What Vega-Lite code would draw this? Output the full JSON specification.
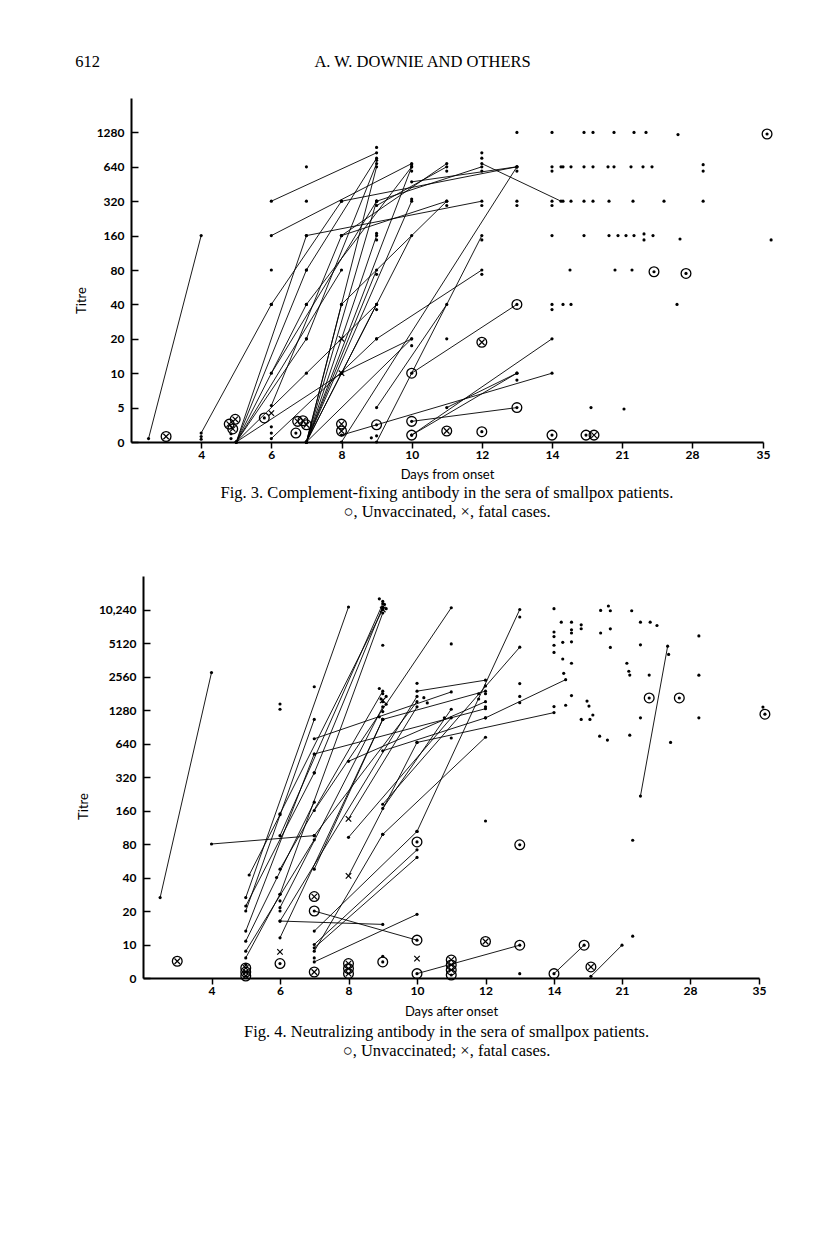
{
"$schema": "https://vega.github.io/schema/vega-lite/v6.json",
"background": "white",
"padding": {"left": 75, "top": 53, "right": 10, "bottom": 10},
"config": {"view": {"stroke": null}, "font": "Lato"},
"title": {"text": "612\u00a0\u00a0\u00a0\u00a0\u00a0\u00a0\u00a0\u00a0\u00a0\u00a0\u00a0\u00a0\u00a0\u00a0\u00a0\u00a0\u00a0\u00a0\u00a0\u00a0\u00a0\u00a0\u00a0\u00a0\u00a0\u00a0\u00a0\u00a0\u00a0\u00a0\u00a0\u00a0\u00a0\u00a0\u00a0\u00a0\u00a0\u00a0\u00a0\u00a0\u00a0\u00a0\u00a0\u00a0\u00a0\u00a0\u00a0\u00a0\u00a0\u00a0\u00a0\u00a0A. W. DOWNIE AND OTHERS", "anchor": "start", "font": "Liberation Serif", "fontSize": 16.5, "fontWeight": "normal", "color": "black", "offset": 28},
"spacing": 55,
"datasets": {
"cf": [
{"d":2.5,"t":0.5,"k":"dot","g":"a1"},{"d":4,"t":160,"k":"dot","g":"a1"},
{"d":4,"t":1.3,"k":"dot","g":"a2"},{"d":6,"t":40,"k":"dot","g":"a2"},
{"d":6,"t":320,"k":"dot","g":"a3"},{"d":9,"t":900,"k":"dot","g":"a3"},
{"d":6,"t":160,"k":"dot","g":"a4"},{"d":10,"t":700,"k":"dot","g":"a4"},
{"d":7,"t":160,"k":"dot","g":"a5"},{"d":12,"t":320,"k":"dot","g":"a5"},
{"d":6,"t":40,"k":"dot","g":"a6"},{"d":8,"t":320,"k":"dot","g":"a6"},
{"d":6,"t":10,"k":"dot","g":"a7"},{"d":9,"t":320,"k":"dot","g":"a7"},
{"d":6,"t":5.3,"k":"dot","g":"a8"},{"d":8,"t":160,"k":"dot","g":"a8"},
{"d":5,"t":0,"k":"dot","g":"a9"},{"d":7,"t":160,"k":"dot","g":"a9"},
{"d":5,"t":0,"k":"dot","g":"a10"},{"d":7,"t":80,"k":"dot","g":"a10"},
{"d":5,"t":0,"k":"dot","g":"a11"},{"d":7,"t":40,"k":"dot","g":"a11"},
{"d":5,"t":0,"k":"dot","g":"a12"},{"d":8,"t":80,"k":"dot","g":"a12"},
{"d":5,"t":0,"k":"dot","g":"a13"},{"d":9,"t":40,"k":"dot","g":"a13"},
{"d":5,"t":0,"k":"dot","g":"a14"},{"d":8,"t":10,"k":"dot","g":"a14"},
{"d":5,"t":0,"k":"dot","g":"a15"},{"d":7,"t":20,"k":"dot","g":"a15"},
{"d":7,"t":0,"k":"dot","g":"a16"},{"d":9,"t":640,"k":"dot","g":"a16"},
{"d":7,"t":0,"k":"dot","g":"a17"},{"d":10,"t":640,"k":"dot","g":"a17"},
{"d":7,"t":0,"k":"dot","g":"a18"},{"d":9,"t":320,"k":"dot","g":"a18"},
{"d":7,"t":0,"k":"dot","g":"a19"},{"d":10,"t":320,"k":"dot","g":"a19"},
{"d":7,"t":0,"k":"dot","g":"a20"},{"d":9,"t":160,"k":"dot","g":"a20"},
{"d":7,"t":0,"k":"dot","g":"a21"},{"d":9,"t":80,"k":"dot","g":"a21"},
{"d":7,"t":0,"k":"dot","g":"a22"},{"d":10,"t":20,"k":"dot","g":"a22"},
{"d":7,"t":0,"k":"dot","g":"a23"},{"d":9,"t":40,"k":"dot","g":"a23"},
{"d":7,"t":0,"k":"dot","g":"a24"},{"d":8,"t":40,"k":"dot","g":"a24"},
{"d":7,"t":0,"k":"dot","g":"a25"},{"d":10,"t":160,"k":"dot","g":"a25"},
{"d":7,"t":20,"k":"dot","g":"a26"},{"d":9,"t":700,"k":"dot","g":"a26"},
{"d":7,"t":40,"k":"dot","g":"a27"},{"d":10,"t":640,"k":"dot","g":"a27"},
{"d":7,"t":80,"k":"dot","g":"a28"},{"d":9,"t":800,"k":"dot","g":"a28"},
{"d":8,"t":320,"k":"dot","g":"a29"},{"d":13,"t":640,"k":"dot","g":"a29"},
{"d":9,"t":320,"k":"dot","g":"a30"},{"d":12,"t":640,"k":"dot","g":"a30"},
{"d":8,"t":160,"k":"dot","g":"a31"},{"d":11,"t":320,"k":"dot","g":"a31"},
{"d":8,"t":0,"k":"dot","g":"a32"},{"d":13,"t":640,"k":"dot","g":"a32"},
{"d":9,"t":0,"k":"dot","g":"a33"},{"d":12,"t":160,"k":"dot","g":"a33"},
{"d":8,"t":40,"k":"dot","g":"a34"},{"d":11,"t":320,"k":"dot","g":"a34"},
{"d":9,"t":20,"k":"dot","g":"a35"},{"d":12,"t":80,"k":"dot","g":"a35"},
{"d":9,"t":5,"k":"dot","g":"a36"},{"d":11,"t":40,"k":"dot","g":"a36"},
{"d":10,"t":10,"k":"circ","g":"a37"},{"d":13,"t":40,"k":"circ","g":"a37"},
{"d":10,"t":1,"k":"circ","g":"a38"},{"d":13,"t":10,"k":"dot","g":"a38"},
{"d":10,"t":1,"k":"dot","g":"a39"},{"d":14,"t":20,"k":"dot","g":"a39"},
{"d":11,"t":5,"k":"dot","g":"a40"},{"d":13,"t":10,"k":"dot","g":"a40"},
{"d":10,"t":3,"k":"circ","g":"a41"},{"d":13,"t":5,"k":"circ","g":"a41"},
{"d":8,"t":1,"k":"dot","g":"a42"},{"d":14,"t":10,"k":"dot","g":"a42"},
{"d":12,"t":700,"k":"dot","g":"a43"},{"d":14.9,"t":320,"k":"dot","g":"a43"},
{"d":10,"t":500,"k":"dot","g":"a44"},{"d":13,"t":640,"k":"dot","g":"a44"},
{"d":8,"t":10,"k":"dot","g":"a45"},{"d":10,"t":20,"k":"dot","g":"a45"},
{"d":6,"t":0.5,"k":"dot","g":"a46"},{"d":9,"t":20,"k":"dot","g":"a46"},
{"d":9,"t":300,"k":"dot","g":"a47"},{"d":11,"t":640,"k":"dot","g":"a47"},
{"d":8,"t":160,"k":"dot","g":"a48"},{"d":11,"t":700,"k":"dot","g":"a48"},
{"d":3,"t":0.8,"k":"circx"},
{"d":4,"t":0.4,"k":"dot"},{"d":4,"t":0.8,"k":"dot"},
{"d":4.8,"t":2.6,"k":"circx"},{"d":4.97,"t":3.3,"k":"circx"},{"d":4.9,"t":1.9,"k":"circx"},
{"d":4.85,"t":1.2,"k":"dot"},{"d":4.85,"t":0.5,"k":"dot"},
{"d":6,"t":80,"k":"dot"},{"d":5.8,"t":3.5,"k":"circ"},{"d":6,"t":4.2,"k":"x"},
{"d":6,"t":2.2,"k":"dot"},{"d":6,"t":1.3,"k":"dot"},
{"d":6.75,"t":3,"k":"circx"},{"d":6.9,"t":3.1,"k":"circx"},{"d":7,"t":2.5,"k":"circx"},
{"d":6.7,"t":1.3,"k":"circ"},
{"d":7,"t":640,"k":"dot"},{"d":7,"t":320,"k":"dot"},{"d":7,"t":10,"k":"dot"},
{"d":8,"t":2.6,"k":"circx"},{"d":8,"t":1.6,"k":"circx"},
{"d":8,"t":20,"k":"x"},{"d":8,"t":10,"k":"x"},
{"d":9,"t":2.5,"k":"circ"},{"d":8.85,"t":0.6,"k":"dot"},{"d":9,"t":0.9,"k":"dot"},
{"d":9,"t":170,"k":"dot"},{"d":9,"t":150,"k":"dot"},{"d":9,"t":75,"k":"dot"},{"d":9,"t":37,"k":"dot"},
{"d":9,"t":1000,"k":"dot"},{"d":9,"t":760,"k":"dot"},
{"d":10,"t":18,"k":"dot"},{"d":10,"t":680,"k":"dot"},{"d":10,"t":600,"k":"dot"},{"d":10,"t":340,"k":"dot"},
{"d":11,"t":1.6,"k":"circx"},{"d":11,"t":600,"k":"dot"},{"d":11,"t":300,"k":"dot"},{"d":11,"t":20,"k":"dot"},
{"d":12,"t":19,"k":"circx"},{"d":12,"t":1.5,"k":"circ"},
{"d":12,"t":900,"k":"dot"},{"d":12,"t":800,"k":"dot"},{"d":12,"t":600,"k":"dot"},{"d":12,"t":300,"k":"dot"},{"d":12,"t":150,"k":"dot"},{"d":12,"t":75,"k":"dot"},
{"d":13,"t":1280,"k":"dot"},{"d":13,"t":600,"k":"dot"},{"d":13,"t":320,"k":"dot"},{"d":13,"t":300,"k":"dot"},{"d":13,"t":9,"k":"dot"},
{"d":14,"t":1280,"k":"dot"},{"d":14,"t":640,"k":"dot"},{"d":14,"t":600,"k":"dot"},{"d":14,"t":320,"k":"dot"},{"d":14,"t":300,"k":"dot"},{"d":14,"t":160,"k":"dot"},{"d":14,"t":40,"k":"dot"},{"d":14,"t":37,"k":"dot"},
{"d":14,"t":1,"k":"circ"},
{"d":14.9,"t":640,"k":"dot"},{"d":15.1,"t":640,"k":"dot"},{"d":15.9,"t":640,"k":"dot"},{"d":17.2,"t":640,"k":"dot"},{"d":18.1,"t":640,"k":"dot"},{"d":19.6,"t":640,"k":"dot"},{"d":20.2,"t":640,"k":"dot"},{"d":21.9,"t":640,"k":"dot"},{"d":23.1,"t":640,"k":"dot"},{"d":24,"t":640,"k":"dot"},{"d":29.1,"t":680,"k":"dot"},{"d":29.1,"t":600,"k":"dot"},
{"d":17.2,"t":1280,"k":"dot"},{"d":18.1,"t":1280,"k":"dot"},{"d":20.2,"t":1280,"k":"dot"},{"d":22.2,"t":1280,"k":"dot"},{"d":23.4,"t":1280,"k":"dot"},{"d":26.6,"t":1240,"k":"dot"},{"d":35.4,"t":1250,"k":"circ"},
{"d":15.1,"t":320,"k":"dot"},{"d":15.9,"t":320,"k":"dot"},{"d":17.2,"t":320,"k":"dot"},{"d":18.1,"t":320,"k":"dot"},{"d":19.7,"t":320,"k":"dot"},{"d":22.1,"t":320,"k":"dot"},{"d":25.2,"t":320,"k":"dot"},{"d":29.1,"t":320,"k":"dot"},
{"d":17.2,"t":160,"k":"dot"},{"d":19.7,"t":160,"k":"dot"},{"d":20.6,"t":160,"k":"dot"},{"d":21.4,"t":160,"k":"dot"},{"d":22.2,"t":160,"k":"dot"},{"d":23.2,"t":168,"k":"dot"},{"d":23.2,"t":150,"k":"dot"},{"d":24.1,"t":160,"k":"dot"},{"d":26.8,"t":152,"k":"dot"},{"d":35.8,"t":150,"k":"dot"},
{"d":15.8,"t":80,"k":"dot"},{"d":20.3,"t":80,"k":"dot"},{"d":22,"t":80,"k":"dot"},{"d":24.2,"t":78,"k":"circ"},{"d":27.4,"t":76,"k":"circ"},
{"d":15.1,"t":40,"k":"dot"},{"d":15.9,"t":40,"k":"dot"},{"d":26.5,"t":40,"k":"dot"},
{"d":17.9,"t":5,"k":"dot"},{"d":21.2,"t":4.8,"k":"dot"},
{"d":17.4,"t":1,"k":"circ"},{"d":18.2,"t":1,"k":"circx"}
],
"nt": [
{"d":2.5,"t":28,"k":"dot","g":"b1"},{"d":4,"t":2860,"k":"dot","g":"b1"},
{"d":4,"t":80,"k":"dot","g":"b2"},{"d":7,"t":100,"k":"dot","g":"b2"},
{"d":5,"t":28,"k":"dot","g":"b3"},{"d":8,"t":11000,"k":"dot","g":"b3"},
{"d":5,"t":20,"k":"dot","g":"b4"},{"d":7,"t":1100,"k":"dot","g":"b4"},
{"d":5,"t":14,"k":"dot","g":"b5"},{"d":7,"t":540,"k":"dot","g":"b5"},
{"d":5,"t":11,"k":"dot","g":"b6"},{"d":7,"t":200,"k":"dot","g":"b6"},
{"d":5,"t":8,"k":"dot","g":"b7"},{"d":7,"t":90,"k":"dot","g":"b7"},
{"d":5,"t":6,"k":"dot","g":"b8"},{"d":6,"t":30,"k":"dot","g":"b8"},
{"d":5,"t":23,"k":"dot","g":"b9"},{"d":7,"t":360,"k":"dot","g":"b9"},
{"d":5.1,"t":43,"k":"dot","g":"b10"},{"d":6,"t":150,"k":"dot","g":"b10"},
{"d":6,"t":152,"k":"dot","g":"b11"},{"d":9,"t":10240,"k":"dot","g":"b11"},
{"d":6,"t":100,"k":"dot","g":"b12"},{"d":9,"t":12000,"k":"dot","g":"b12"},
{"d":6,"t":30,"k":"dot","g":"b13"},{"d":9,"t":9700,"k":"dot","g":"b13"},
{"d":6,"t":50,"k":"dot","g":"b14"},{"d":9,"t":2000,"k":"dot","g":"b14"},
{"d":6,"t":22,"k":"dot","g":"b15"},{"d":9,"t":1400,"k":"dot","g":"b15"},
{"d":6,"t":17,"k":"dot","g":"b16"},{"d":10,"t":1800,"k":"dot","g":"b16"},
{"d":6,"t":12,"k":"dot","g":"b17"},{"d":9,"t":1100,"k":"dot","g":"b17"},
{"d":6,"t":17,"k":"dot","g":"b18"},{"d":9,"t":16,"k":"dot","g":"b18"},
{"d":7,"t":20,"k":"circ","g":"b19"},{"d":10,"t":11.3,"k":"circ","g":"b19"},
{"d":7,"t":730,"k":"dot","g":"b20"},{"d":11,"t":1970,"k":"dot","g":"b20"},
{"d":7,"t":540,"k":"dot","g":"b21"},{"d":12,"t":1330,"k":"dot","g":"b21"},
{"d":7,"t":360,"k":"dot","g":"b22"},{"d":9,"t":11000,"k":"dot","g":"b22"},
{"d":7,"t":100,"k":"dot","g":"b23"},{"d":10,"t":1600,"k":"dot","g":"b23"},
{"d":7,"t":50,"k":"dot","g":"b24"},{"d":9,"t":1100,"k":"dot","g":"b24"},
{"d":7,"t":14,"k":"dot","g":"b25"},{"d":10,"t":110,"k":"dot","g":"b25"},
{"d":7,"t":10,"k":"dot","g":"b26"},{"d":10,"t":73,"k":"dot","g":"b26"},
{"d":7,"t":9,"k":"dot","g":"b27"},{"d":10,"t":64,"k":"dot","g":"b27"},
{"d":7,"t":8,"k":"dot","g":"b28"},{"d":9,"t":103,"k":"dot","g":"b28"},
{"d":7,"t":4.8,"k":"dot","g":"b29"},{"d":10,"t":19,"k":"dot","g":"b29"},
{"d":8,"t":470,"k":"dot","g":"b30"},{"d":12,"t":1600,"k":"dot","g":"b30"},
{"d":8,"t":140,"k":"x","g":"b31"},{"d":10,"t":1400,"k":"dot","g":"b31"},
{"d":8,"t":96,"k":"dot","g":"b32"},{"d":11,"t":1130,"k":"dot","g":"b32"},
{"d":8,"t":42,"k":"x","g":"b33"},{"d":10,"t":660,"k":"dot","g":"b33"},
{"d":9,"t":190,"k":"dot","g":"b34"},{"d":13,"t":4800,"k":"dot","g":"b34"},
{"d":9,"t":170,"k":"dot","g":"b35"},{"d":11,"t":1310,"k":"dot","g":"b35"},
{"d":9,"t":103,"k":"dot","g":"b36"},{"d":12,"t":760,"k":"dot","g":"b36"},
{"d":9,"t":570,"k":"dot","g":"b37"},{"d":12,"t":1130,"k":"dot","g":"b37"},
{"d":10,"t":1.3,"k":"circ","g":"b38"},{"d":13,"t":9.8,"k":"circ","g":"b38"},
{"d":10,"t":660,"k":"dot","g":"b39"},{"d":14,"t":1230,"k":"dot","g":"b39"},
{"d":10,"t":110,"k":"dot","g":"b40"},{"d":13,"t":10240,"k":"dot","g":"b40"},
{"d":12,"t":1130,"k":"dot","g":"b41"},{"d":15.2,"t":2440,"k":"dot","g":"b41"},
{"d":14,"t":1.3,"k":"circ","g":"b42"},{"d":17.1,"t":9.8,"k":"circ","g":"b42"},
{"d":17.8,"t":0.5,"k":"dot","g":"b43"},{"d":21,"t":9.8,"k":"dot","g":"b43"},
{"d":22.9,"t":229,"k":"dot","g":"b44"},{"d":25.7,"t":4880,"k":"dot","g":"b44"},
{"d":10,"t":2000,"k":"dot","g":"b45"},{"d":12,"t":2420,"k":"dot","g":"b45"},
{"d":9,"t":1100,"k":"dot","g":"b46"},{"d":12,"t":2000,"k":"dot","g":"b46"},
{"d":7,"t":160,"k":"dot","g":"b47"},{"d":11,"t":10770,"k":"dot","g":"b47"},
{"d":3,"t":5,"k":"circx"},
{"d":5,"t":4,"k":"dot"},{"d":5,"t":3,"k":"circx"},{"d":5,"t":1.8,"k":"circx"},{"d":5,"t":0.6,"k":"circx"},
{"d":6,"t":7.8,"k":"x"},{"d":6,"t":4.3,"k":"circ"},
{"d":6,"t":1510,"k":"dot"},{"d":6,"t":1310,"k":"dot"},
{"d":6,"t":26,"k":"dot"},{"d":6,"t":20,"k":"dot"},{"d":5.9,"t":40,"k":"dot"},
{"d":7,"t":2170,"k":"dot"},{"d":7,"t":28.6,"k":"circx"},{"d":7,"t":1.8,"k":"circx"},{"d":7,"t":6,"k":"dot"},
{"d":8,"t":4.3,"k":"circx"},{"d":8,"t":2.8,"k":"circx"},{"d":8,"t":1.3,"k":"circx"},
{"d":9,"t":4.8,"k":"circ"},{"d":9,"t":6.5,"k":"dot"},
{"d":8.9,"t":13500,"k":"dot"},{"d":9,"t":12700,"k":"dot"},{"d":9.05,"t":11800,"k":"dot"},{"d":9,"t":10240,"k":"x"},{"d":9.1,"t":10500,"k":"dot"},
{"d":9,"t":4950,"k":"dot"},
{"d":8.9,"t":2100,"k":"dot"},{"d":9,"t":1900,"k":"dot"},{"d":9.1,"t":1800,"k":"dot"},{"d":8.95,"t":1700,"k":"dot"},{"d":9,"t":1600,"k":"dot"},{"d":9.1,"t":1500,"k":"dot"},{"d":9,"t":1250,"k":"dot"},{"d":8.9,"t":1150,"k":"dot"},{"d":9,"t":1650,"k":"x"},
{"d":10,"t":2300,"k":"dot"},{"d":10.2,"t":1750,"k":"dot"},{"d":10.3,"t":1550,"k":"dot"},
{"d":10,"t":85,"k":"circ"},{"d":10,"t":5.8,"k":"x"},
{"d":11,"t":5050,"k":"dot"},{"d":10.8,"t":1130,"k":"dot"},{"d":11,"t":745,"k":"dot"},
{"d":11,"t":5.4,"k":"circx"},{"d":11,"t":3.9,"k":"circx"},{"d":11,"t":2.4,"k":"circx"},{"d":11,"t":0.9,"k":"circ"},
{"d":12,"t":2200,"k":"dot"},{"d":12,"t":1900,"k":"dot"},{"d":11.8,"t":1900,"k":"dot"},{"d":11.8,"t":1700,"k":"dot"},{"d":12,"t":1400,"k":"dot"},{"d":12,"t":135,"k":"dot"},{"d":12,"t":10.9,"k":"circx"},
{"d":13,"t":9100,"k":"dot"},{"d":13,"t":2290,"k":"dot"},{"d":13,"t":1800,"k":"dot"},{"d":13,"t":1560,"k":"dot"},{"d":13,"t":79,"k":"circ"},{"d":13,"t":1.3,"k":"dot"},
{"d":14,"t":10500,"k":"dot"},{"d":14,"t":6800,"k":"dot"},{"d":14,"t":6100,"k":"dot"},{"d":14,"t":4950,"k":"dot"},{"d":14,"t":4400,"k":"dot"},{"d":14,"t":1410,"k":"dot"},
{"d":14.75,"t":8300,"k":"dot"},{"d":14.9,"t":5220,"k":"dot"},{"d":14.9,"t":3900,"k":"dot"},{"d":15,"t":2800,"k":"dot"},{"d":15.2,"t":1460,"k":"dot"},
{"d":15.8,"t":8300,"k":"dot"},{"d":15.8,"t":7140,"k":"dot"},{"d":15.8,"t":6650,"k":"dot"},{"d":15.8,"t":5300,"k":"dot"},{"d":15.8,"t":3570,"k":"dot"},{"d":15.8,"t":1830,"k":"dot"},
{"d":16.8,"t":7900,"k":"dot"},{"d":16.8,"t":7300,"k":"dot"},{"d":16.8,"t":1100,"k":"dot"},
{"d":17.4,"t":1620,"k":"dot"},{"d":17.6,"t":1430,"k":"dot"},{"d":17.7,"t":1100,"k":"dot"},
{"d":18.8,"t":10100,"k":"dot"},{"d":18.8,"t":6650,"k":"dot"},{"d":18.7,"t":780,"k":"dot"},{"d":18,"t":1185,"k":"dot"},
{"d":17.8,"t":3.3,"k":"circx"},
{"d":19.6,"t":11300,"k":"dot"},{"d":19.8,"t":10050,"k":"dot"},{"d":22,"t":10050,"k":"dot"},{"d":22.9,"t":8300,"k":"dot"},{"d":23.9,"t":8300,"k":"dot"},{"d":24.6,"t":7800,"k":"dot"},{"d":19.8,"t":7280,"k":"dot"},{"d":28.9,"t":6200,"k":"dot"},{"d":19.8,"t":4780,"k":"dot"},{"d":22.9,"t":4980,"k":"dot"},{"d":25.8,"t":4250,"k":"dot"},
{"d":21.5,"t":3570,"k":"dot"},{"d":21.7,"t":2960,"k":"dot"},{"d":21.8,"t":2670,"k":"dot"},{"d":23.8,"t":2670,"k":"dot"},{"d":28.9,"t":2660,"k":"dot"},
{"d":23.8,"t":1740,"k":"circ"},{"d":26.9,"t":1740,"k":"circ"},
{"d":22.9,"t":1130,"k":"dot"},{"d":28.9,"t":1130,"k":"dot"},{"d":35.6,"t":1200,"k":"circ"},{"d":35.4,"t":1390,"k":"dot"},
{"d":19.5,"t":705,"k":"dot"},{"d":21.8,"t":800,"k":"dot"},{"d":26,"t":660,"k":"dot"},{"d":22.1,"t":89,"k":"dot"},{"d":22.1,"t":12.5,"k":"dot"}
]
},
"vconcat": [
{
"width": 632, "height": 344,
"title": {"text": ["Fig. 3. Complement-fixing antibody in the sera of smallpox patients.", "\u25cb, Unvaccinated, \u00d7, fatal cases."], "orient": "bottom", "anchor": "middle", "font": "Liberation Serif", "fontSize": 16.5, "fontWeight": "normal", "lineHeight": 19, "color": "black", "offset": 4},
"data": {"name": "cf"},
"encoding": {
"x": {"field": "d", "type": "quantitative", "scale": {"domain": [2, 14, 21, 28, 35], "range": [0, 421, 491, 561, 632], "nice": false, "zero": false},
 "axis": {"values": [4, 6, 8, 10, 12, 14, 21, 28, 35], "title": "Days from onset", "grid": false, "labelFont": "Lato", "labelFontSize": 12, "labelFontWeight": "bold", "labelColor": "black", "labelFlush": false, "labelOverlap": false, "labelPadding": 1, "tickSize": 6, "tickWidth": 1.5, "tickColor": "black", "domainColor": "black", "domainWidth": 2.2, "titleFont": "Lato", "titleFontSize": 13, "titleFontWeight": "normal", "titleColor": "black", "titlePadding": 8}},
"y": {"field": "t", "type": "quantitative", "scale": {"domain": [0, 5, 10, 20, 40, 80, 160, 320, 640, 1280, 2560], "range": [344, 309.6, 275.2, 240.8, 206.4, 172, 137.6, 103.2, 68.8, 34.4, 0], "nice": false, "zero": false},
 "axis": {"values": [0, 5, 10, 20, 40, 80, 160, 320, 640, 1280], "labelExpr": "'' + datum.value", "title": "Titre", "titleY": 202, "grid": false, "labelFont": "Lato", "labelFontSize": 12, "labelFontWeight": "bold", "labelColor": "black", "labelFlush": false, "labelOverlap": false, "labelPadding": 14, "tickSize": -7, "tickWidth": 1.5, "tickColor": "black", "domainColor": "black", "domainWidth": 2, "titleFont": "Lato", "titleFontSize": 13, "titleFontWeight": "normal", "titleColor": "black", "titlePadding": 8}}
},
"layer": [
{"transform": [{"filter": "isValid(datum.g)"}], "mark": {"type": "line", "stroke": "black", "strokeWidth": 0.9}, "encoding": {"detail": {"field": "g"}}},
{"transform": [{"filter": "datum.k == 'dot' || datum.k == 'circ'"}], "mark": {"type": "point", "shape": "circle", "filled": true, "size": 10, "color": "black", "opacity": 1}},
{"transform": [{"filter": "datum.k == 'circ' || datum.k == 'circx'"}], "mark": {"type": "point", "shape": "circle", "filled": false, "size": 95, "stroke": "black", "strokeWidth": 1.3, "opacity": 1}},
{"transform": [{"filter": "datum.k == 'circx' || datum.k == 'x'"}], "mark": {"type": "point", "shape": "M-1,-1L1,1M-1,1L1,-1", "filled": false, "size": 30, "stroke": "black", "strokeWidth": 1.2, "opacity": 1}},
{"data": {"values": [{}]}, "mark": {"type": "text", "text": "Complement fixation", "font": "Lato", "fontSize": 14, "color": "black", "baseline": "middle", "align": "center"}, "encoding": {"x": {"datum": 11.2}, "y": {"datum": 2300}}}
]
},
{
"width": 631, "height": 402,
"title": {"text": ["Fig. 4. Neutralizing antibody in the sera of smallpox patients.", "\u25cb, Unvaccinated; \u00d7, fatal cases."], "orient": "bottom", "anchor": "middle", "font": "Liberation Serif", "fontSize": 16.5, "fontWeight": "normal", "lineHeight": 19, "color": "black", "offset": 6},
"data": {"name": "nt"},
"encoding": {
"x": {"field": "d", "type": "quantitative", "scale": {"domain": [2, 14, 21, 28, 35], "range": [12, 423, 491, 559, 628], "nice": false, "zero": false},
 "axis": {"values": [4, 6, 8, 10, 12, 14, 21, 28, 35], "title": "Days after onset", "grid": false, "labelFont": "Lato", "labelFontSize": 12, "labelFontWeight": "bold", "labelColor": "black", "labelFlush": false, "labelOverlap": false, "labelPadding": 1, "tickSize": 6, "tickWidth": 1.5, "tickColor": "black", "domainColor": "black", "domainWidth": 2.2, "titleFont": "Lato", "titleFontSize": 13, "titleFontWeight": "normal", "titleColor": "black", "titlePadding": 9}},
"y": {"field": "t", "type": "quantitative", "scale": {"domain": [0, 10, 20, 40, 80, 160, 320, 640, 1280, 2560, 5120, 10240, 20480], "range": [402, 368.5, 335, 301.5, 268, 234.5, 201, 167.5, 134, 100.5, 67, 33.5, 0], "nice": false, "zero": false},
 "axis": {"values": [0, 10, 20, 40, 80, 160, 320, 640, 1280, 2560, 5120, 10240], "labelExpr": "datum.value == 10240 ? '10,240' : '' + datum.value", "offset": -12, "title": "Titre", "titleY": 230, "grid": false, "labelFont": "Lato", "labelFontSize": 12, "labelFontWeight": "bold", "labelColor": "black", "labelFlush": false, "labelOverlap": false, "labelPadding": 14, "tickSize": -7, "tickWidth": 1.5, "tickColor": "black", "domainColor": "black", "domainWidth": 2, "titleFont": "Lato", "titleFontSize": 13, "titleFontWeight": "normal", "titleColor": "black", "titlePadding": 8}}
},
"layer": [
{"transform": [{"filter": "isValid(datum.g)"}], "mark": {"type": "line", "stroke": "black", "strokeWidth": 0.9}, "encoding": {"detail": {"field": "g"}}},
{"transform": [{"filter": "datum.k == 'dot' || datum.k == 'circ'"}], "mark": {"type": "point", "shape": "circle", "filled": true, "size": 10, "color": "black", "opacity": 1}},
{"transform": [{"filter": "datum.k == 'circ' || datum.k == 'circx'"}], "mark": {"type": "point", "shape": "circle", "filled": false, "size": 95, "stroke": "black", "strokeWidth": 1.3, "opacity": 1}},
{"transform": [{"filter": "datum.k == 'circx' || datum.k == 'x'"}], "mark": {"type": "point", "shape": "M-1,-1L1,1M-1,1L1,-1", "filled": false, "size": 30, "stroke": "black", "strokeWidth": 1.2, "opacity": 1}},
{"data": {"values": [{}]}, "mark": {"type": "text", "text": "Neutralization", "font": "Lato", "fontSize": 14, "color": "black", "baseline": "middle", "align": "center"}, "encoding": {"x": {"datum": 10.76}, "y": {"datum": 19000}}}
]
}
]
}
